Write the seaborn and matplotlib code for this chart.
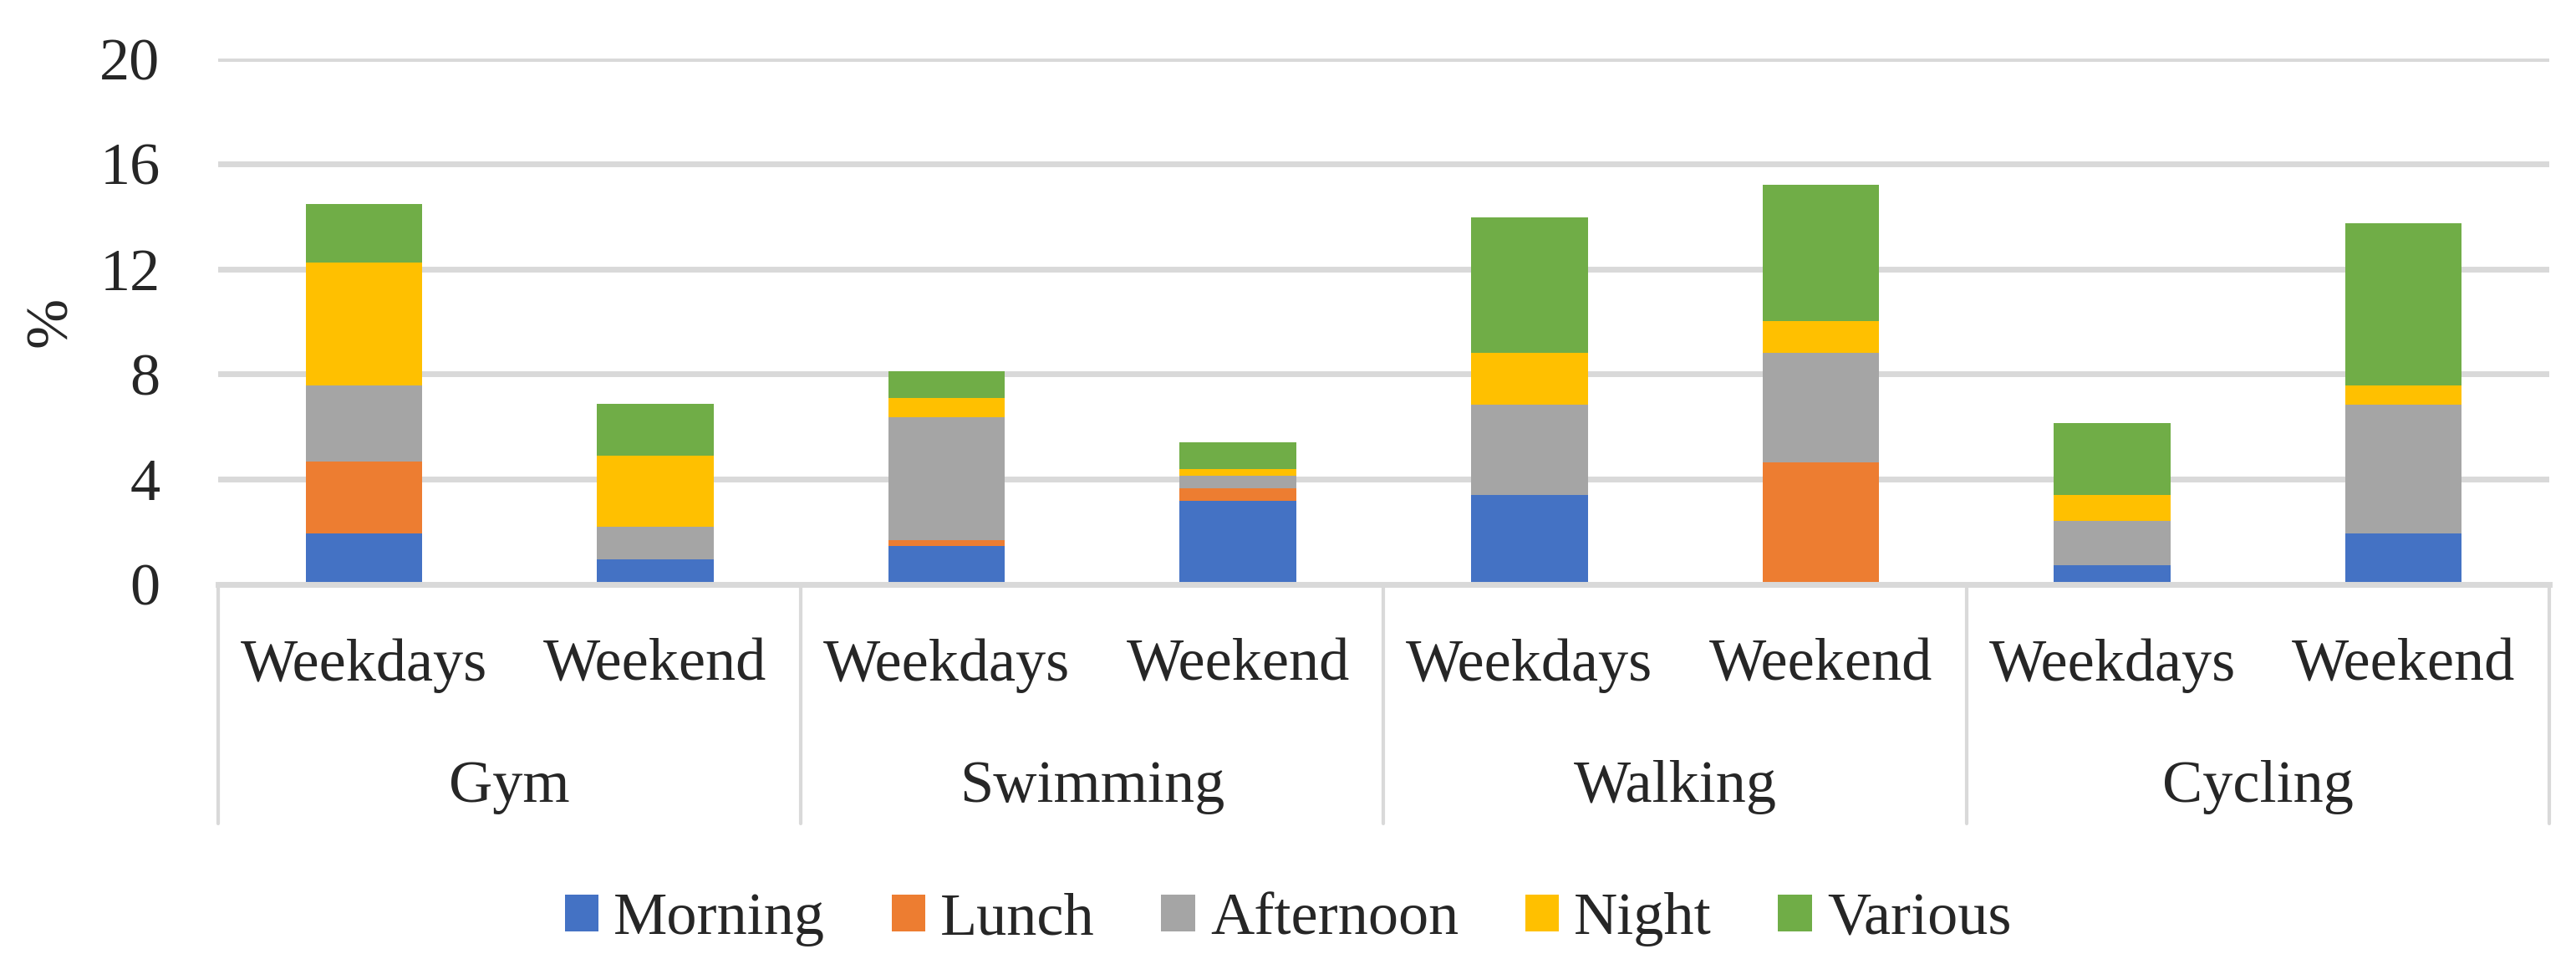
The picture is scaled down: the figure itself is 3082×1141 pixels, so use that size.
import matplotlib
matplotlib.use('Agg')
import matplotlib.pyplot as plt
from matplotlib.patches import Patch
import pandas as pd
import seaborn as sns

# Data (%)
groups = ['Gym', 'Swimming', 'Walking', 'Cycling']
periods = ['Weekdays', 'Weekend']
series = ['Morning', 'Lunch', 'Afternoon', 'Night', 'Various']
morning = [1.94, 0.95, 1.47, 3.18, 3.40, 0.00, 0.73, 1.94]
lunch = [2.72, 0.00, 0.21, 0.47, 0.00, 4.64, 0.00, 0.00]
afternoon = [2.92, 1.25, 4.67, 0.48, 3.43, 4.16, 1.68, 4.89]
night = [4.65, 2.69, 0.73, 0.25, 1.97, 1.21, 0.99, 0.73]
various = [2.24, 1.97, 1.02, 1.02, 5.16, 5.19, 2.73, 6.18]
colors = ['#4472C4', '#ED7D31', '#A5A5A5', '#FFC000', '#70AD47']

sns.set_style('white')
plt.rcParams['font.family'] = ['Liberation Serif', 'DejaVu Serif']
fs = 52

keys = [f'{g} {p}' for g in groups for p in periods]
df = pd.DataFrame({'key': keys, 'Morning': morning, 'Lunch': lunch,
                   'Afternoon': afternoon, 'Night': night, 'Various': various})
cum = df[series].cumsum(axis=1)

fig = plt.figure(figsize=(30.82, 11.41), dpi=100)
ax = fig.add_axes([0.0847, 0.3874, 0.9049, 0.5512])

# stacked bars: draw cumulative totals from the top series down
for s, c in reversed(list(zip(series, colors))):
    sns.barplot(x=df['key'], y=cum[s], order=keys, color=c, width=0.4,
                saturation=1, linewidth=0, ax=ax, zorder=3)

ax.set_ylim(0, 20)
ax.set_xlim(-0.5, len(keys) - 0.5)
ax.set_yticks(range(0, 21, 4))
ax.tick_params(axis='y', labelsize=fs, length=0, pad=50)
ax.set_xticks([])
ax.set_xlabel('')
ax.set_ylabel('%', fontsize=fs, labelpad=18)
ax.yaxis.grid(True, color='#d9d9d9', linewidth=5, zorder=0)
ax.set_axisbelow(True)
for sp in ['top', 'right', 'left']:
    ax.spines[sp].set_visible(False)
ax.spines['bottom'].set_color('#d9d9d9')
ax.spines['bottom'].set_linewidth(5)
ax.spines['bottom'].set_zorder(4)

# multi-level category axis
trans = ax.get_xaxis_transform()
for i, k in enumerate(keys):
    ax.text(i, -0.155, periods[i % 2], transform=trans, ha='center', va='center',
            fontsize=fs, clip_on=False)
for j, g in enumerate(groups):
    ax.text(2 * j + 0.5, -0.385, g, transform=trans, ha='center', va='center',
            fontsize=fs, clip_on=False)
for b in range(len(groups) + 1):
    ax.plot([2 * b - 0.5, 2 * b - 0.5], [0, -0.455], transform=trans,
            color='#d9d9d9', linewidth=3, clip_on=False)

handles = [Patch(facecolor=c, edgecolor='none', label=s) for s, c in zip(series, colors)]
fig.legend(handles=handles, loc='center', bbox_to_anchor=(0.5, 0.036), ncol=5,
           frameon=False, fontsize=fs, handlelength=0.56, handleheight=0.56,
           handletextpad=0.25, columnspacing=1.1)

fig.savefig('out.png', dpi=100)
